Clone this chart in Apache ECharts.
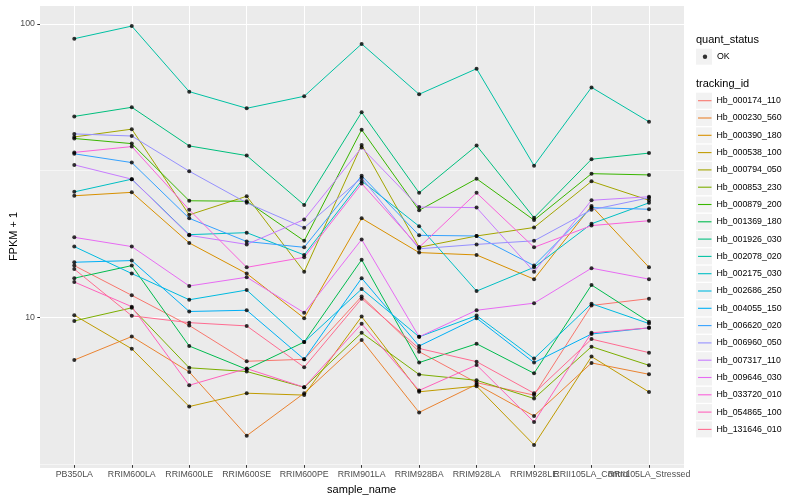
<!DOCTYPE html>
<html>
<head>
<meta charset="utf-8">
<script src="https://cdn.jsdelivr.net/npm/echarts@6/dist/echarts.min.js"></script>
<style>html,body{margin:0;padding:0;background:#fff}#c{width:800px;height:500px}</style>
</head>
<body>
<div id="c"></div>
<script>
// ---- data ----
const categories = ['PB350LA','RRIM600LA','RRIM600LE','RRIM600SE','RRIM600PE','RRIM901LA','RRIM928BA','RRIM928LA','RRIM928LE','RRII105LA_Control','RRII105LA_Stressed'];
const yTickLabels = [10, 100];

const Hb_000174_110 = [14.8, 11.7, 9.22, 6.95, 7.06, 11.6, 7.50, 5.87, 5.32, 10.8, 11.4];
const Hb_000230_560 = [7.02, 8.45, 6.39, 3.86, 5.40, 8.22, 4.64, 5.79, 4.51, 6.86, 6.27];
const Hb_000390_180 = [25.7, 26.4, 17.7, 13.9, 9.77, 21.5, 16.4, 16.1, 13.3, 23.7, 14.6];
const Hb_000538_100 = [10.0, 7.67, 4.86, 5.40, 5.32, 9.89, 5.46, 5.71, 3.59, 7.21, 5.45];
const Hb_000794_050 = [40.9, 43.5, 22.1, 25.6, 14.1, 38.4, 17.1, 18.7, 20.0, 28.8, 24.8];
const Hb_000853_230 = [9.56, 10.6, 6.60, 6.41, 5.66, 8.70, 6.26, 5.98, 5.18, 7.80, 6.73];
const Hb_000879_200 = [40.4, 38.8, 24.7, 24.6, 18.0, 43.3, 22.9, 29.4, 21.2, 30.6, 30.3];
const Hb_001369_180 = [13.4, 14.8, 7.84, 6.52, 8.09, 15.5, 6.88, 7.98, 6.32, 12.7, 9.49];
const Hb_001926_030 = [48.1, 51.7, 38.1, 35.3, 23.9, 49.7, 26.3, 38.2, 21.6, 34.3, 36.0];
const Hb_002078_020 = [88.9, 98.2, 58.5, 51.3, 56.4, 85.3, 57.3, 70.1, 32.6, 60.5, 46.1];
const Hb_002175_030 = [26.5, 29.3, 18.9, 19.2, 16.1, 28.9, 20.2, 12.1, 14.6, 20.6, 24.3];
const Hb_002686_250 = [17.2, 13.9, 11.3, 12.2, 8.09, 12.3, 8.43, 9.97, 7.10, 10.95, 9.36];
const Hb_004055_150 = [15.2, 15.4, 10.3, 10.4, 7.06, 13.4, 7.84, 9.77, 6.88, 8.62, 9.05];
const Hb_006620_020 = [35.8, 33.4, 21.5, 17.9, 17.1, 30.1, 18.8, 18.7, 14.8, 23.4, 23.1];
const Hb_006960_050 = [41.9, 41.2, 31.2, 24.3, 19.95, 29.6, 16.9, 17.5, 18.0, 23.0, 25.3];
const Hb_007317_110 = [32.8, 29.3, 18.8, 17.5, 21.3, 37.6, 23.5, 23.4, 14.1, 24.8, 25.5];
const Hb_009646_030 = [18.5, 17.2, 12.6, 13.5, 10.2, 18.2, 8.43, 10.4, 11.0, 14.5, 13.3];
const Hb_033720_010 = [36.2, 37.9, 23.0, 14.6, 15.8, 28.3, 17.1, 26.3, 17.1, 20.3, 21.1];
const Hb_054865_100 = [13.0, 10.7, 5.75, 6.56, 5.66, 9.34, 5.52, 6.75, 4.30, 8.70, 9.05];
const Hb_131646_010 = [14.4, 9.95, 9.43, 9.19, 6.63, 11.4, 7.69, 6.93, 5.40, 8.28, 7.44];

const trackingIds = ['Hb_000174_110','Hb_000230_560','Hb_000390_180','Hb_000538_100','Hb_000794_050','Hb_000853_230','Hb_000879_200','Hb_001369_180','Hb_001926_030','Hb_002078_020','Hb_002175_030','Hb_002686_250','Hb_004055_150','Hb_006620_020','Hb_006960_050','Hb_007317_110','Hb_009646_030','Hb_033720_010','Hb_054865_100','Hb_131646_010'];
const seriesValues = [Hb_000174_110,Hb_000230_560,Hb_000390_180,Hb_000538_100,Hb_000794_050,Hb_000853_230,Hb_000879_200,Hb_001369_180,Hb_001926_030,Hb_002078_020,Hb_002175_030,Hb_002686_250,Hb_004055_150,Hb_006620_020,Hb_006960_050,Hb_007317_110,Hb_009646_030,Hb_033720_010,Hb_054865_100,Hb_131646_010];
const quantStatus = ['OK'];

// ---- styles / layout ----
const colors = ['#F8766D','#EA8331','#D89000','#C09B00','#A3A500','#7CAE00','#39B600','#00BB4E','#00BF7D','#00C1A3','#00BFC4','#00BAE0','#00B0F6','#35A2FF','#9590FF','#C77CFF','#E76BF3','#FA62DB','#FF62BC','#FF6C91'];
const fontFamily = 'Liberation Sans, Arial, sans-serif';
const yMin = 3.06, yMax = 116;
const panel = {left: 40, top: 5, width: 644, height: 463};
const keySize = 16, keyGap = 1.3, keyLeft = 696, okTop = 48.7, idsTop = 92.7;

// sub-grid carrying only the labelled ticks (10 and 100), aligned with the main log scale
const logSpan = Math.log10(yMax) - Math.log10(yMin);
const tickGridTop = panel.top + panel.height * (Math.log10(yMax) - Math.log10(yTickLabels[1])) / logSpan;
const tickGridHeight = panel.height * (Math.log10(yTickLabels[1]) - Math.log10(yTickLabels[0])) / logSpan;

const chart = echarts.init(document.getElementById('c'), null, {renderer: 'canvas'});

const lineSeries = trackingIds.map((name, i) => ({
  name, type: 'line', xAxisIndex: 1, yAxisIndex: 2,
  data: seriesValues[i], showSymbol: false, symbol: 'none',
  lineStyle: {color: colors[i], width: 1}, itemStyle: {color: colors[i]},
  z: 2, silent: true
}));
const pointData = [];
seriesValues.forEach(vals => vals.forEach((v, j) => pointData.push([j, v])));
const okSeries = {
  name: quantStatus[0], type: 'scatter', xAxisIndex: 1, yAxisIndex: 2,
  data: pointData, symbol: 'circle', symbolSize: 4,
  itemStyle: {color: '#000'}, z: 3, silent: true
};

const legendText = {fontSize: 8.8, color: '#000', lineHeight: keySize, fontFamily};
const legendBase = {orient: 'vertical', padding: 0, selectedMode: false, itemGap: keyGap};

const keyRects = [{type: 'rect', left: keyLeft, top: okTop, shape: {width: keySize, height: keySize}, style: {fill: '#F2F2F2'}, z: 0, silent: true}]
  .concat(trackingIds.map((n, i) => ({type: 'rect', left: keyLeft, top: idsTop + i * (keySize + keyGap), shape: {width: keySize, height: keySize}, style: {fill: '#F2F2F2'}, z: 0, silent: true})));

chart.setOption({
  animation: false,
  backgroundColor: '#fff',
  textStyle: {fontFamily},
  graphic: keyRects,
  title: [
    {text: 'tracking_id', left: keyLeft, top: 77.8, padding: 0, textStyle: {fontSize: 11, fontWeight: 'normal', color: '#000', lineHeight: 13, fontFamily}},
    {text: 'quant_status', left: keyLeft, top: 33.5, padding: 0, textStyle: {fontSize: 11, fontWeight: 'normal', color: '#000', lineHeight: 13, fontFamily}}
  ],
  legend: [
    Object.assign({}, legendBase, {left: 702.8, top: okTop, z: 5,
      data: [{name: quantStatus[0], icon: 'circle', itemStyle: {color: '#000', borderWidth: 0}}],
      itemWidth: 4.4, itemHeight: 4.4,
      textStyle: Object.assign({}, legendText, {padding: [0, 0, 0, 4.8]})}),
    Object.assign({}, legendBase, {left: 698, top: idsTop, z: 5,
      data: trackingIds.map((n, i) => ({name: n, icon: 'rect', itemStyle: {color: colors[i], borderWidth: 0}})),
      itemWidth: 13.5, itemHeight: 1.1, textStyle: legendText})
  ],
  grid: [
    Object.assign({}, panel, {show: true, backgroundColor: '#EBEBEB', borderWidth: 0}),
    {left: 74.3, top: panel.top, width: 574.7, height: panel.height, show: false},
    {left: panel.left, top: tickGridTop, width: panel.width, height: tickGridHeight, show: false}
  ],
  xAxis: [
    {gridIndex: 0, type: 'value', min: 0, max: 1, show: false},
    {gridIndex: 1, type: 'category', data: categories, boundaryGap: false,
      name: 'sample_name', nameLocation: 'middle', nameGap: 14,
      nameTextStyle: {fontSize: 11, color: '#000', fontFamily},
      axisLine: {show: false},
      axisTick: {show: true, interval: 0, length: 2.7, lineStyle: {color: '#333', width: 1}},
      axisLabel: {interval: 0, color: '#4D4D4D', fontSize: 8.8, margin: 5, hideOverlap: false, fontFamily},
      splitLine: {show: true, interval: 0, lineStyle: {color: '#fff', width: 1.07}}
    },
    {gridIndex: 2, type: 'value', min: 0, max: 1, show: false}
  ],
  yAxis: [
    {gridIndex: 0, type: 'log', logBase: 10, min: yMin, max: yMax,
      name: 'FPKM + 1', nameLocation: 'middle', nameGap: 21,
      nameTextStyle: {fontSize: 11, color: '#000', fontFamily},
      axisLine: {show: false}, axisTick: {show: false}, axisLabel: {show: false},
      splitLine: {show: true, lineStyle: {color: '#fff', width: 1.07}}
    },
    {gridIndex: 0, type: 'log', logBase: 3.16227766, min: yMin, max: yMax, position: 'left',
      axisLine: {show: false}, axisTick: {show: false}, axisLabel: {show: false},
      splitLine: {show: true, lineStyle: {color: '#fff', width: 0.53}}
    },
    {gridIndex: 1, type: 'log', logBase: 10, min: yMin, max: yMax, show: false, splitLine: {show: false}},
    {gridIndex: 2, type: 'log', logBase: 10, min: yTickLabels[0], max: yTickLabels[1], position: 'left',
      axisLine: {show: false},
      axisTick: {show: true, length: 2.7, lineStyle: {color: '#333', width: 1}},
      axisLabel: {color: '#4D4D4D', fontSize: 8.8, margin: 5, fontFamily,
        formatter: v => { const hit = yTickLabels.find(t => Math.abs(t - v) < 1e-6 * t); return hit !== undefined ? String(hit) : ''; }},
      splitLine: {show: false}
    }
  ],
  series: lineSeries.concat([okSeries])
});
</script>
</body>
</html>
